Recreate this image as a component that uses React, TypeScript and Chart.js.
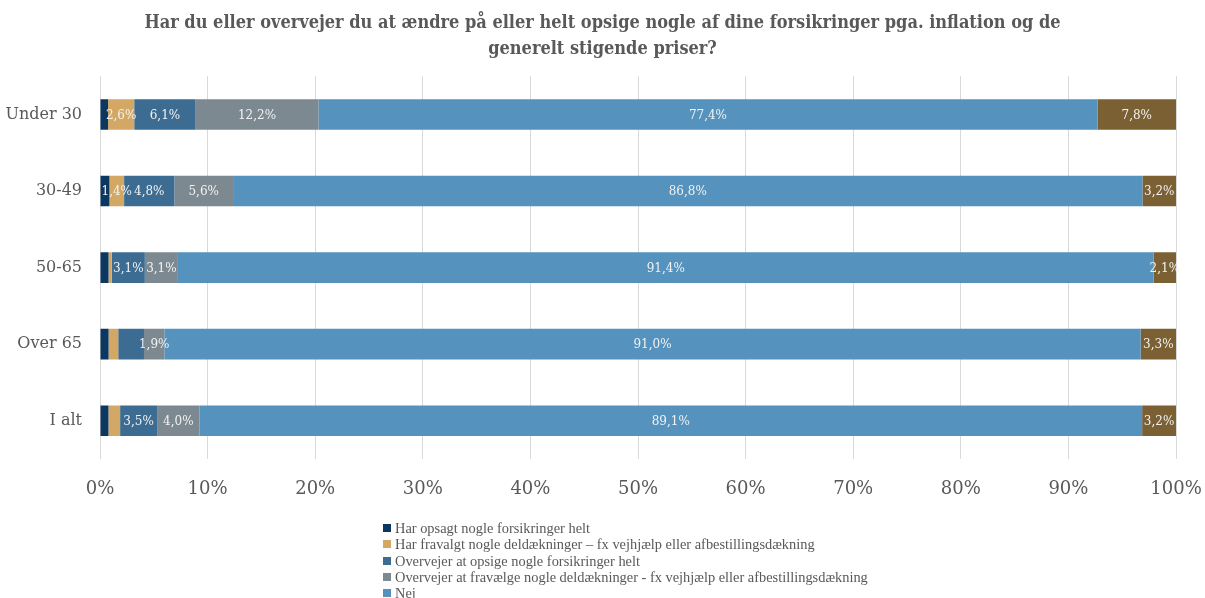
import { useEffect, useRef } from "react";
import { Chart, registerables } from "chart.js";

Chart.register(...registerables);

const titleLines = [
  "Har du eller overvejer du at ændre på eller helt opsige nogle af dine forsikringer pga. inflation og de",
  "generelt stigende priser?",
];
const categories = ["Under 30", "30-49", "50-65", "Over 65", "I alt"];
const seriesNames = [
  "Har opsagt nogle forsikringer helt",
  "Har fravalgt nogle deldækninger – fx vejhjælp eller afbestillingsdækning",
  "Overvejer at opsige nogle forsikringer helt",
  "Overvejer at fravælge nogle deldækninger - fx vejhjælp eller afbestillingsdækning",
  "Nej",
  "Ved ikke",
];
const harOpsagt = [0.8, 0.9, 0.8, 0.8, 0.8];
const harFravalgt = [2.6, 1.4, 0.3, 0.9, 1.1];
const overvejerOpsige = [6.1, 4.8, 3.1, 2.4, 3.5];
const overvejerFravaelge = [12.2, 5.6, 3.1, 1.9, 4.0];
const nej = [77.4, 86.8, 91.4, 91.0, 89.1];
const vedIkke = [7.8, 3.2, 2.1, 3.3, 3.2];
const seriesValues = [harOpsagt, harFravalgt, overvejerOpsige, overvejerFravaelge, nej, vedIkke];
const seriesColors = ["#0c3761", "#d3a865", "#3c6c92", "#7d8991", "#5592bd", "#7b6034"];
const legendCount = 5;
// [series index, category index] pairs whose value label is not shown
const hiddenLabels = [
  [0, 0], [0, 1], [0, 2], [0, 3], [0, 4],
  [1, 2], [1, 3], [1, 4],
  [2, 3],
];

const TEXT = "#595959";
const SERIF = "'DejaVu Serif', 'Liberation Serif', serif";

const rowTotals = categories.map((_, i) => seriesValues.reduce((s, arr) => s + arr[i], 0));

const labelPlugin = {
  id: "segLabels",
  afterDatasetsDraw(chart: any) {
    const ctx = chart.ctx;
    ctx.save();
    ctx.font = `12px ${SERIF}`;
    ctx.fillStyle = "#f2f2f2";
    ctx.textAlign = "center";
    ctx.textBaseline = "middle";
    chart.data.datasets.forEach((ds: any, si: number) => {
      const meta = chart.getDatasetMeta(si);
      meta.data.forEach((bar: any, ci: number) => {
        if (hiddenLabels.some(([a, b]) => a === si && b === ci)) return;
        const raw = seriesValues[si][ci];
        const txt = raw.toFixed(1).replace(".", ",") + "%";
        ctx.fillText(txt, (bar.x + bar.base) / 2, bar.y + 1);
      });
    });
    ctx.restore();
  },
};

export default function App() {
  const ref = useRef<HTMLCanvasElement | null>(null);
  useEffect(() => {
    if (!ref.current) return;
    const chart = new Chart(ref.current, {
      type: "bar",
      data: {
        labels: categories,
        datasets: seriesNames.map((name, si) => ({
          label: name,
          data: seriesValues[si].map((v, ci) => (v / rowTotals[ci]) * 100),
          backgroundColor: seriesColors[si],
          borderWidth: 0,
          categoryPercentage: 1,
          barPercentage: 0.4,
        })),
      },
      options: {
        indexAxis: "y",
        responsive: false,
        animation: false,
        devicePixelRatio: 1,
        layout: { padding: 0 },
        plugins: {
          legend: { display: false },
          tooltip: { enabled: false },
          title: {
            display: true,
            text: titleLines,
            color: TEXT,
            font: { family: "'DejaVu Serif Condensed', 'DejaVu Serif', serif", size: 18, weight: "bold", lineHeight: 1.45 },
            padding: { top: 10, bottom: 14 },
          },
        },
        scales: {
          x: {
            stacked: true,
            min: 0,
            max: 100,
            ticks: {
              stepSize: 10,
              color: TEXT,
              font: { family: SERIF, size: 18 },
              padding: 20,
              callback: (v: any) => v + "%",
            },
            grid: { color: "#d9d9d9", drawTicks: false },
            border: { display: false },
            afterFit: (s: any) => {
              s.height = 139;
              s.paddingLeft = 0;
              s.paddingRight = 29;
            },
          },
          y: {
            stacked: true,
            ticks: { color: TEXT, font: { family: SERIF, size: 16 }, padding: 18 },
            grid: { display: false, drawTicks: false },
            border: { display: false },
            afterFit: (s: any) => {
              s.width = 100;
            },
          },
        },
      },
      plugins: [labelPlugin],
    });
    return () => chart.destroy();
  }, []);

  return (
    <div style={{ position: "absolute", left: 0, top: 0, width: 1205, height: 598, background: "#fff", overflow: "hidden" }}>
      <canvas ref={ref} width={1205} height={598} style={{ display: "block", width: 1205, height: 598 }} />
      <div
        style={{
          position: "absolute",
          left: 383,
          top: 520,
          fontFamily: "'Liberation Serif', serif",
          fontSize: 14.4,
          color: TEXT,
          lineHeight: "16.25px",
        }}
      >
        {seriesNames.slice(0, legendCount).map((name, i) => (
          <div key={name} style={{ display: "flex", alignItems: "center", whiteSpace: "nowrap", height: 16.25 }}>
            <span style={{ display: "inline-block", width: 8, height: 8, background: seriesColors[i], marginRight: 4 }} />
            <span>{name}</span>
          </div>
        ))}
      </div>
    </div>
  );
}
